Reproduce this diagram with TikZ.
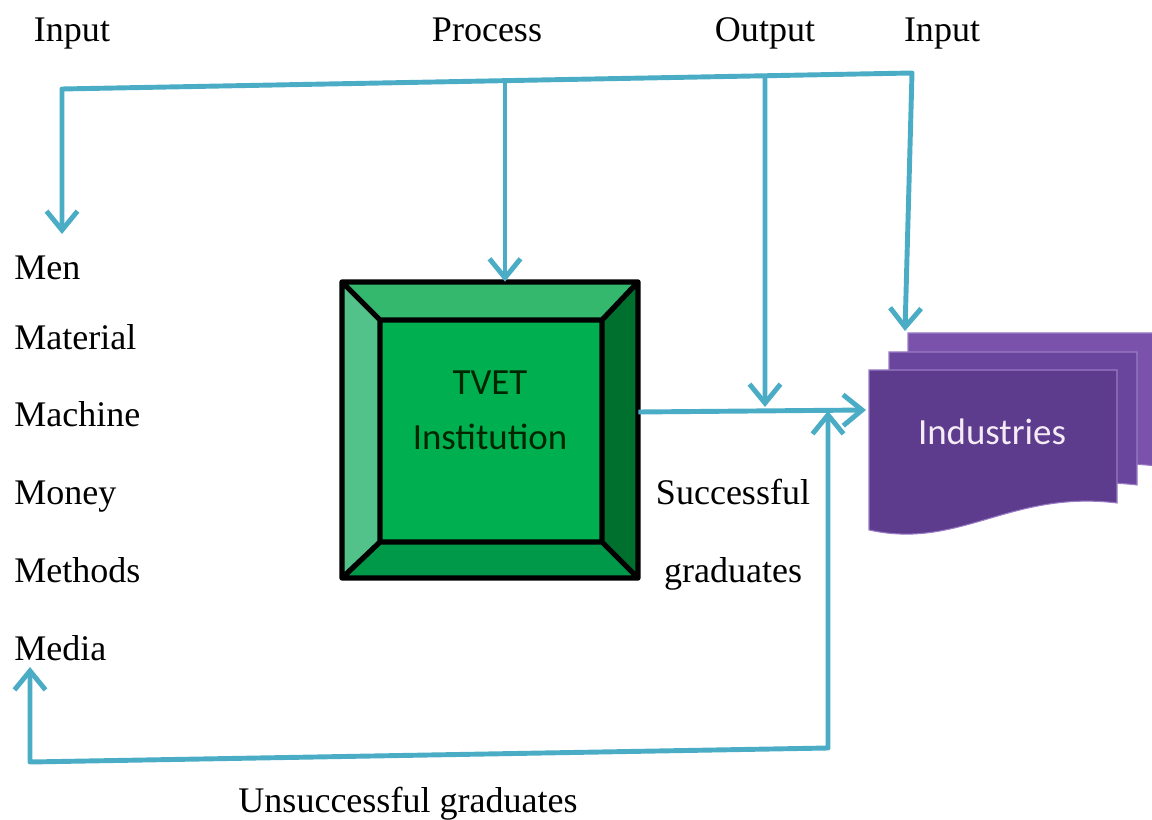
\documentclass[tikz,border=0pt]{standalone}
\usepackage{fontspec}
\setmainfont{Liberation Serif}
\setsansfont{Carlito}
\usetikzlibrary{arrows.meta,calc}
\definecolor{flowblue}{HTML}{4BACC6}
\definecolor{boxmid}{HTML}{00B050}
\definecolor{boxtop}{HTML}{34B86E}
\definecolor{boxleft}{HTML}{52C28A}
\definecolor{boxright}{HTML}{00702F}
\definecolor{boxbottom}{HTML}{00994A}
\definecolor{indfront}{HTML}{5E3C8D}
\definecolor{indmid}{HTML}{6A459E}
\definecolor{indback}{HTML}{7A52AB}
\definecolor{indedge}{HTML}{9A7CC6}
\begin{document}
\begin{tikzpicture}[x=0.02cm,y=-0.02cm,
    flow/.style={draw=flowblue, line width=2.8pt, line join=round,
      arrows={-Straight Barb[length=0.38cm,width=0.62cm]}},
    bothflow/.style={flow, arrows={Straight Barb[length=0.38cm,width=0.62cm]-Straight Barb[length=0.38cm,width=0.62cm]}},
    word/.style={font=\fontsize{20.5}{24}\selectfont, inner sep=0pt, anchor=base},
    listword/.style={word, anchor=base west},
    boxword/.style={font=\sffamily\fontsize{21}{25}\selectfont, inner sep=0pt, anchor=base}]
  \useasboundingbox (0,0) rectangle (1152,820);

  % labels along the top
  \node[word] (lblin) at (72,42) {Input};
  \node[word] (lblproc) at (487,42) {Process};
  \node[word] (lblout) at (765,42) {Output};
  \node[word] (lblin2) at (942,42) {Input};

  % the six inputs
  \node[listword] (men) at (14,280) {Men};
  \node[listword] (material) at (14,350) {Material};
  \node[listword] (machine) at (14,427) {Machine};
  \node[listword] (money) at (14,504) {Money};
  \node[listword] (methods) at (14,582) {Methods};
  \node[listword] (media) at (14,660) {Media};

  % bevelled TVET box
  \fill[boxmid] (380,320) rectangle (602,542);
  \fill[boxtop] (342,282) -- (638,282) -- (602,320) -- (380,320) -- cycle;
  \fill[boxleft] (342,282) -- (380,320) -- (380,542) -- (342,578) -- cycle;
  \fill[boxright] (638,282) -- (638,578) -- (602,542) -- (602,320) -- cycle;
  \fill[boxbottom] (342,578) -- (380,542) -- (602,542) -- (638,578) -- cycle;
  \draw[black, line width=3pt, line join=round]
    (342,282) rectangle (638,578)
    (380,320) rectangle (602,542)
    (342,282) -- (380,320) (638,282) -- (602,320)
    (638,578) -- (602,542) (342,578) -- (380,542);
  \node[minimum width=5.92cm, minimum height=5.92cm, inner sep=0pt] (tvet) at (490,430) {};
  \node[boxword, text=black!85!green] (tvet1) at (490,395) {TVET};
  \node[boxword, text=black!85!green] (tvet2) at (490,449) {Institution};

  % stacked Industries sheets
  \foreach \dx/\dy/\col in {39/-37/indback, 20/-18/indmid, 0/0/indfront}{
    \fill[\col, draw=indedge, line width=0.6pt, shift={(\dx,\dy)}]
      (869,370) -- (1117,370) -- (1117,503)
      .. controls (1010,490) and (960,550) .. (869,530) -- cycle;
  }
  \node[boxword, text=white!92!violet] (ind) at (992,444) {Industries};
  \coordinate (indT) at (905,331);
  \coordinate (indL) at (866,410);

  % feedback lines
  \coordinate (topL) at (62,89);
  \coordinate (topR) at (912,73);
  \coordinate (inTip) at (62,234);
  \coordinate (procTop) at ($(topL)!{(505-62)/850}!(topR)$);
  \coordinate (outTop) at ($(topL)!{(765-62)/850}!(topR)$);
  \coordinate (outTip) at (765,407);
  \coordinate (loopTip) at (828,411);
  \coordinate (loopR) at (828,748);
  \coordinate (loopL) at (30,762);
  \coordinate (mediaTip) at (30,667);

  \draw[bothflow] (indT) -- (topR) -- (topL) -- (inTip);
  \draw[flow] (procTop) -- (procTop |- tvet.north);
  \draw[flow] (outTop) -- (outTip);
  \draw[flow] (tvet.east |- 0,412) -- (indL);
  \draw[bothflow] (loopTip) -- (loopR) -- (loopL) -- (mediaTip);

  \node[word] (succ1) at (733,504) {Successful};
  \node[word] (succ2) at (733,582) {graduates};
  \node[word] (unsucc) at (408,812) {Unsuccessful graduates};
\end{tikzpicture}
\end{document}
